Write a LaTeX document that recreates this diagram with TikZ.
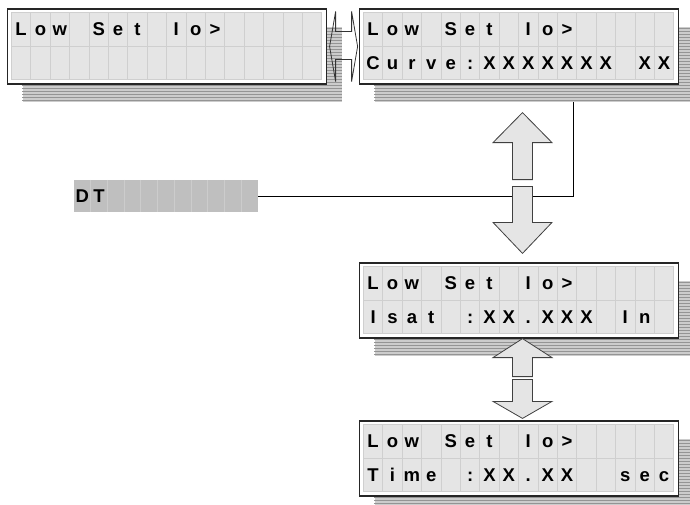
\documentclass[tikz,border=0pt]{standalone}
\usepackage{fontspec}
\setmainfont[BoldFont={Liberation Sans Bold}]{Liberation Sans}
\usetikzlibrary{positioning, calc}

\definecolor{lcdgray}{gray}{0.90}
\definecolor{cellline}{gray}{0.81}
\definecolor{stripedark}{gray}{0.58}
\definecolor{stripelight}{gray}{0.80}
\definecolor{dtgray}{gray}{0.75}
\definecolor{dtline}{gray}{0.80}

\begin{document}
\begin{tikzpicture}[x=1pt, y=-1pt,
    lcd/.style={rectangle, draw=black!85, line width=1.2pt, fill=white, minimum width=319pt, minimum height=75pt, inner sep=0pt},
    shadow/.style={rectangle, fill=stripelight, minimum width=319pt, minimum height=75pt, inner sep=0pt},
    cell/.style={draw=cellline, fill=lcdgray, line width=0.8pt},
    lcdchar/.style={font=\bfseries\fontsize{18.5pt}{20pt}\selectfont, text=black, inner sep=0pt, anchor=base},
    blockarrow/.style={draw=black!75, fill=lcdgray, line width=0.8pt, line join=miter},
    link/.style={draw=black, line width=1pt}
]

\fill[white] (0,0) rectangle (690,504);
\useasboundingbox (0,0) rectangle (690,504);
\clip (0,0) rectangle (690,504);

% Striped shadows behind the displays
\foreach \nm/\x/\y in {lo1/167/46.5, lo2/519/46.5, lo3/519/300.5, lo4/519/458.5} {
  \node[shadow] (\nm-sh) at (\x+15,\y+18) {};
  \foreach \k in {0,...,24}
    \draw[stripedark, line width=1.6pt] ($(\nm-sh.north west)+(0,1.5+\k*3)$) -- ($(\nm-sh.north east)+(0,1.5+\k*3)$);
}

% Displays, 16 x 2 cells each
\foreach \nm/\x/\y in {lo1/167/46.5, lo2/519/46.5, lo3/519/300.5, lo4/519/458.5} {
  \node[lcd] (\nm) at (\x,\y) {};
  \foreach \c in {0,...,15}
    \foreach \r in {0,1}
      \draw[cell] ($(\nm.north west)+(4.5+\c*19.4,4+\r*33.5)$) rectangle ++(19.4,33.5);
}

% Display texts
\foreach \nm/\r/\txt in {
    lo1/0/{L,o,w,{},S,e,t,{},I,o,>},
    lo2/0/{L,o,w,{},S,e,t,{},I,o,>},
    lo2/1/{C,u,r,v,e,:,X,X,X,X,X,X,X,{},X,X},
    lo3/0/{L,o,w,{},S,e,t,{},I,o,>},
    lo3/1/{I,s,a,t,{},:,X,X,.,X,X,X,{},I,n},
    lo4/0/{L,o,w,{},S,e,t,{},I,o,>},
    lo4/1/{T,i,m,e,{},:,X,X,.,X,X,{},{},s,e,c}} {
  \foreach \ch [count=\i from 0] in \txt
    \node[lcdchar] (\nm-\r-\i) at ($(\nm.north west)+(4.5+\i*19.4+9.7,4+\r*33.5+16.75+6.6)$) {\ch};
}

% DT field
\node[rectangle, fill=dtgray, minimum width=184pt, minimum height=32pt, inner sep=0pt] (dt) at (166,196) {};
\foreach \c in {1,...,10}
  \draw[dtline, line width=0.8pt] ($(dt.north west)+(\c*16.73,0)$) -- ($(dt.south west)+(\c*16.73,0)$);
\node[lcdchar] (dt-d) at ($(dt.north west)+(8.4,22.5)$) {D};
\node[lcdchar] (dt-t) at ($(dt.north west)+(25.1,22.5)$) {T};

% Connection to the curve display
\coordinate (tap) at ($(lo2-sh.south)+(39,0)$);
\draw[link] (dt.east) -| (tap);

% Arrows between displays
\draw[black!80, line width=0.8pt, line join=miter] ($(lo1.east)+(2.5,0)$) -- ++(6,-35) -- ++(0,20) -- ++(16,0) -- ++(0,-20) -- ++(6,35)
  -- ++(-6,35) -- ++(0,-22) -- ++(-16,0) -- ++(0,22) -- cycle;

\coordinate (up1) at ($(lo2.south)+(3.5,28)$);
\draw[blockarrow] (up1) -- ++(29.5,30) -- ++(-19.5,0) -- ++(0,37) -- ++(-20,0) -- ++(0,-37) -- ++(-19.5,0) -- cycle;

\coordinate (dn1) at ($(lo3.north)+(3.5,-9)$);
\draw[blockarrow] (dn1) -- ++(29.5,-31) -- ++(-19.5,0) -- ++(0,-36) -- ++(-20,0) -- ++(0,36) -- ++(-19.5,0) -- cycle;

\coordinate (up2) at ($(lo3.south)+(3.5,0)$);
\draw[blockarrow] (up2) -- ++(29.5,19) -- ++(-19.5,0) -- ++(0,19) -- ++(-20,0) -- ++(0,-19) -- ++(-19.5,0) -- cycle;

\coordinate (dn2) at ($(lo4.north)+(3.5,-2)$);
\draw[blockarrow] (dn2) -- ++(29.5,-17) -- ++(-19.5,0) -- ++(0,-22) -- ++(-20,0) -- ++(0,22) -- ++(-19.5,0) -- cycle;

\end{tikzpicture}
\end{document}
